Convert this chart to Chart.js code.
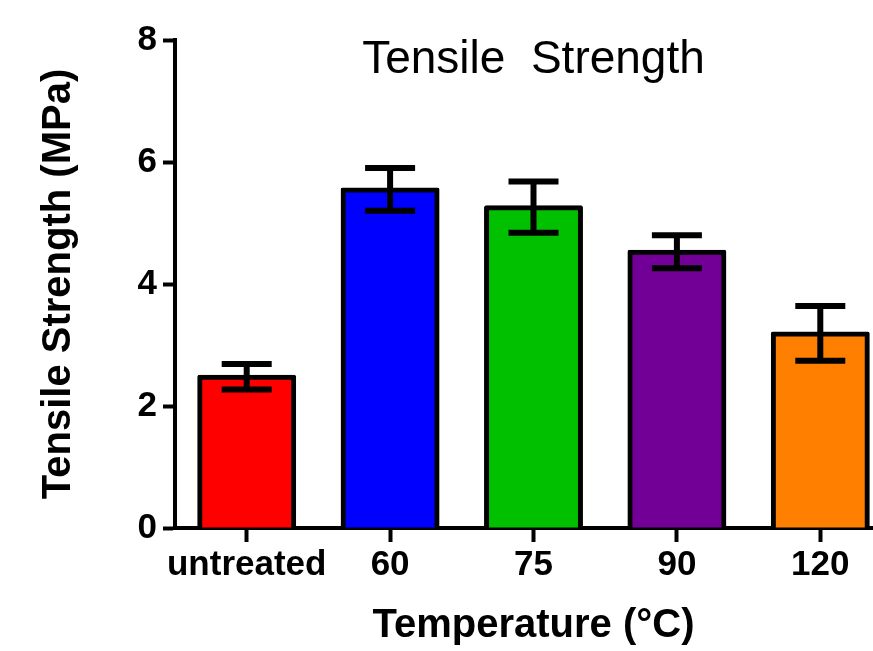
<!DOCTYPE html>
<html>
<head>
<meta charset="utf-8">
<script src="https://cdn.jsdelivr.net/npm/chart.js@4.4.1/dist/chart.umd.min.js"></script>
<style>
  html, body { margin: 0; padding: 0; background: #fff; overflow: hidden; }
  #wrap { position: relative; width: 900px; height: 651px; }
</style>
</head>
<body>
<div id="wrap"><canvas id="c"></canvas></div>
<script>
const categories = ['untreated', '60', '75', '90', '120'];
const meanValues = [2.48, 5.55, 5.26, 4.53, 3.19];
const sdValues = [0.21, 0.35, 0.42, 0.27, 0.45];
const barColors = ['#ff0000', '#0000ff', '#00c000', '#730096', '#ff8000'];
const yTicks = [0, 2, 4, 6, 8];
const chartTitle = 'Tensile  Strength';
const xTitle = 'Temperature (\u00B0C)';
const yTitle = 'Tensile Strength (MPa)';

const FONT = "'Liberation Sans', Arial, Helvetica, sans-serif";

const errorBarPlugin = {
  id: 'errorBars',
  afterDatasetsDraw(chart) {
    const ctx = chart.ctx;
    const meta = chart.getDatasetMeta(0);
    const y = chart.scales.y;
    ctx.save();
    ctx.strokeStyle = '#000';
    ctx.lineWidth = 6;
    ctx.lineCap = 'butt';
    meta.data.forEach((bar, i) => {
      const x = bar.x;
      const top = y.getPixelForValue(meanValues[i] + sdValues[i]);
      const bot = y.getPixelForValue(meanValues[i] - sdValues[i]);
      const hw = 25;
      ctx.beginPath();
      ctx.moveTo(x, top); ctx.lineTo(x, bot);
      ctx.moveTo(x - hw, top); ctx.lineTo(x + hw, top);
      ctx.moveTo(x - hw, bot); ctx.lineTo(x + hw, bot);
      ctx.stroke();
    });
    ctx.restore();
  }
};

const titlePlugin = {
  id: 'innerTitle',
  afterDraw(chart) {
    const ctx = chart.ctx;
    const area = chart.chartArea;
    ctx.save();
    ctx.fillStyle = '#000';
    ctx.font = 'normal 46px ' + FONT;
    ctx.textAlign = 'center';
    ctx.textBaseline = 'alphabetic';
    ctx.fillText(chartTitle, (area.left + area.right) / 2, 73);
    ctx.restore();
  }
};

new Chart(document.getElementById('c'), {
  type: 'bar',
  data: {
    labels: categories,
    datasets: [{
      data: meanValues,
      backgroundColor: barColors,
      borderColor: '#000',
      borderWidth: 5,
      borderSkipped: 'start',
      borderRadius: 2,
      inflateAmount: 2,
      barPercentage: 0.662,
      categoryPercentage: 1.0
    }]
  },
  options: {
    responsive: true,
    maintainAspectRatio: false,
    animation: false,
    devicePixelRatio: 1,
    layout: { padding: { top: 40, right: 8, left: 0, bottom: 0 } },
    plugins: {
      legend: { display: false },
      title: { display: false },
      tooltip: { enabled: false }
    },
    scales: {
      x: {
        z: 1,
        offset: true,
        grid: {
          display: true, drawOnChartArea: false, drawTicks: true, offset: false,
          tickLength: 14, tickWidth: 4, tickColor: '#000', color: '#000'
        },
        border: { display: true, width: 4, color: '#000' },
        ticks: {
          color: '#000', padding: 2,
          font: { family: FONT, size: 35, weight: 'bold' },
          maxRotation: 0, autoSkip: false
        },
        title: {
          display: true, text: xTitle, color: '#000',
          font: { family: FONT, size: 40, weight: 'bold' },
          padding: { top: 0, bottom: 1 }
        },
        afterFit(scale) { scale.height = 123; }
      },
      y: {
        min: 0, max: 8,
        afterBuildTicks(scale) { scale.ticks = yTicks.map(v => ({ value: v })); },
        grid: {
          display: true, drawOnChartArea: false, drawTicks: true,
          tickLength: 12, tickWidth: 4, tickColor: '#000', color: '#000'
        },
        border: { display: true, width: 4, color: '#000' },
        ticks: {
          color: '#000', padding: 6,
          font: { family: FONT, size: 35, weight: 'bold' }
        },
        title: {
          display: true, text: yTitle, color: '#000',
          font: { family: FONT, size: 40, weight: 'bold' },
          padding: { top: 35, bottom: 0 }
        },
        afterFit(scale) { scale.width = 175; }
      }
    }
  },
  plugins: [errorBarPlugin, titlePlugin]
});
</script>
</body>
</html>
